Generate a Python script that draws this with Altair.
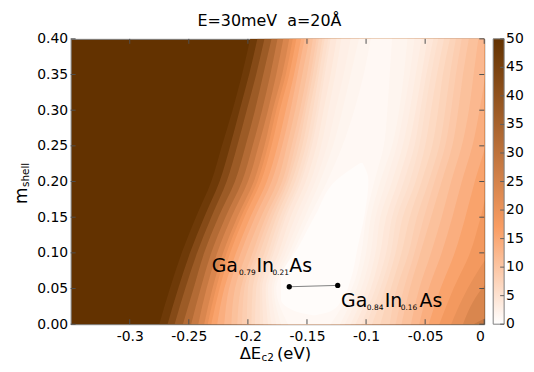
import altair as alt
import pandas as pd

# ---------------- data ----------------
# m_shell rows at which contour crossings were read
row_y = [0.0, 0.05, 0.1, 0.15, 0.2, 0.25, 0.3, 0.35, 0.4]

# contour levels (colour-bar units) and the Delta E_c2 where each level is crossed,
# on the left (steep) side and on the right side of the valley, row by row
levels = [50, 45, 40, 35, 30, 26, 22, 19.5, 17, 15, 13, 11.5, 10, 9, 8, 7, 6, 5.2, 4.5, 3.7, 3, 2.5, 2, 1.5]
left_x = {
    50:   [-0.275, -0.266, -0.256, -0.244, -0.231, -0.222, -0.213, -0.205, -0.198],
    45:   [-0.268, -0.259, -0.249, -0.237, -0.224, -0.215, -0.207, -0.199, -0.192],
    40:   [-0.262, -0.253, -0.243, -0.231, -0.218, -0.209, -0.201, -0.193, -0.186],
    35:   [-0.255, -0.246, -0.237, -0.225, -0.211, -0.202, -0.194, -0.187, -0.180],
    30:   [-0.248, -0.240, -0.231, -0.219, -0.205, -0.196, -0.188, -0.181, -0.175],
    26:   [-0.242, -0.235, -0.226, -0.214, -0.200, -0.191, -0.183, -0.176, -0.170],
    22:   [-0.237, -0.230, -0.221, -0.209, -0.195, -0.186, -0.179, -0.171, -0.165],
    19.5: [-0.234, -0.227, -0.218, -0.206, -0.192, -0.183, -0.176, -0.168, -0.162],
    17:   [-0.231, -0.224, -0.215, -0.203, -0.189, -0.180, -0.173, -0.165, -0.159],
    15:   [-0.226, -0.220, -0.210, -0.198, -0.184, -0.175, -0.168, -0.161, -0.155],
    13:   [-0.220, -0.216, -0.206, -0.194, -0.180, -0.171, -0.164, -0.158, -0.152],
    11.5: [-0.214, -0.211, -0.201, -0.189, -0.175, -0.167, -0.160, -0.154, -0.148],
    10:   [-0.209, -0.206, -0.196, -0.185, -0.171, -0.163, -0.156, -0.150, -0.145],
    9:    [-0.205, -0.203, -0.193, -0.182, -0.168, -0.160, -0.153, -0.147, -0.142],
    8:    [-0.201, -0.200, -0.190, -0.179, -0.166, -0.157, -0.151, -0.145, -0.140],
    7:    [-0.197, -0.196, -0.186, -0.176, -0.163, -0.154, -0.148, -0.142, -0.137],
    6:    [-0.194, -0.193, -0.183, -0.173, -0.160, -0.151, -0.145, -0.140, -0.135],
    5.2:  [-0.190, -0.190, -0.180, -0.170, -0.157, -0.148, -0.142, -0.137, -0.132],
    4.5:  [-0.187, -0.188, -0.178, -0.168, -0.155, -0.146, -0.140, -0.135, -0.130],
    3.7:  [-0.183, -0.185, -0.174, -0.164, -0.151, -0.142, -0.136, -0.130, -0.125],
    3:    [-0.180, -0.183, -0.171, -0.160, -0.147, -0.138, -0.132, -0.126, -0.121],
    2.5:  [-0.176, -0.180, -0.168, -0.156, -0.143, -0.133, -0.126, -0.119, -0.113],
    2:    [-0.172, -0.178, -0.165, -0.152, -0.139, -0.128, -0.120, -0.113, -0.106],
    1.5:  [-0.166, -0.176, -0.162, -0.148, -0.133, -0.120, -0.110, -0.102, -0.096],
}
OUT = 0.03  # crossing lies beyond the right edge of the plot
right_x = {
    50:   [OUT] * 9,
    45:   [OUT] * 9,
    40:   [OUT] * 9,
    35:   [OUT] * 9,
    30:   [0.000, OUT, OUT, OUT, OUT, OUT, OUT, OUT, OUT],
    26:   [-0.009, OUT, OUT, OUT, OUT, OUT, OUT, OUT, OUT],
    22:   [-0.018, -0.002, OUT, OUT, OUT, OUT, OUT, OUT, OUT],
    19.5: [-0.028, -0.014, 0.005, OUT, OUT, OUT, OUT, OUT, OUT],
    17:   [-0.038, -0.026, -0.012, -0.003, 0.006, OUT, OUT, OUT, OUT],
    15:   [-0.047, -0.037, -0.025, -0.016, -0.008, 0.001, 0.008, OUT, OUT],
    13:   [-0.055, -0.047, -0.036, -0.027, -0.019, -0.010, -0.004, 0.001, 0.004],
    11.5: [-0.062, -0.055, -0.045, -0.036, -0.028, -0.019, -0.013, -0.009, -0.005],
    10:   [-0.070, -0.063, -0.054, -0.045, -0.036, -0.027, -0.022, -0.018, -0.013],
    9:    [-0.075, -0.068, -0.059, -0.051, -0.042, -0.033, -0.028, -0.024, -0.019],
    8:    [-0.080, -0.074, -0.064, -0.057, -0.047, -0.038, -0.033, -0.029, -0.024],
    7:    [-0.088, -0.079, -0.070, -0.063, -0.053, -0.044, -0.039, -0.035, -0.029],
    6:    [-0.095, -0.084, -0.075, -0.069, -0.058, -0.050, -0.045, -0.040, -0.034],
    5.2:  [-0.100, -0.088, -0.079, -0.074, -0.063, -0.055, -0.050, -0.045, -0.039],
    4.5:  [-0.104, -0.092, -0.083, -0.078, -0.068, -0.059, -0.054, -0.049, -0.043],
    3.7:  [-0.109, -0.096, -0.088, -0.083, -0.073, -0.064, -0.058, -0.053, -0.048],
    3:    [-0.113, -0.100, -0.092, -0.088, -0.078, -0.069, -0.063, -0.058, -0.053],
    2.5:  [-0.118, -0.104, -0.096, -0.092, -0.083, -0.074, -0.068, -0.063, -0.059],
    2:    [-0.122, -0.108, -0.100, -0.096, -0.088, -0.078, -0.072, -0.068, -0.065],
    1.5:  [-0.130, -0.112, -0.104, -0.100, -0.093, -0.085, -0.082, -0.080, -0.078],
}
# innermost (white) closed contour: the tear drop
inner_level = 1
inner_y = [0.0125, 0.018, 0.035, 0.063, 0.109, 0.156, 0.202, 0.226]
inner_left = [-0.145, -0.160, -0.172, -0.172, -0.157, -0.142, -0.125, -0.105]
inner_right = [-0.143, -0.130, -0.120, -0.113, -0.107, -0.101, -0.098, -0.103]

# marked alloys
alloy_x = [-0.165, -0.124]
alloy_y = [0.0525, 0.0544]

x_ticks = [-0.3, -0.25, -0.2, -0.15, -0.1, -0.05, 0]
y_ticks = [0, 0.05, 0.1, 0.15, 0.2, 0.25, 0.3, 0.35, 0.4]
cbar_ticks = [0, 5, 10, 15, 20, 25, 30, 35, 40, 45, 50]

color_domain = [0, 17, 50]
color_range = ["#ffffff", "#f99d63", "#633200"]

FONT = "DejaVu Sans"
W, H = 416, 287

xscale = alt.Scale(domain=[-0.35, 0], nice=False, zero=False)
yscale = alt.Scale(domain=[0, 0.4], nice=False, zero=False)
cbscale = alt.Scale(domain=[color_domain[0], color_domain[-1]], nice=False, zero=False)
xaxis = alt.Axis(values=x_ticks, ticks=False, domain=False, grid=False, title=None,
                 labelFont=FONT, labelFontSize=14, labelColor="black", labelPadding=5,
                 labelExpr="datum.value == 0 ? '0' : '-' + format(-datum.value, '~g')")
yaxis = alt.Axis(values=y_ticks, ticks=False, domain=False, grid=False, title=None,
                 labelFont=FONT, labelFontSize=14, labelColor="black", labelPadding=3,
                 format=".2f")
cscale = alt.Scale(domain=color_domain, range=color_range, interpolate="rgb")

all_levels = levels + [inner_level, 0]
band_val = {all_levels[i]: (all_levels[i] + all_levels[i + 1]) / 2 for i in range(len(all_levels) - 1)}

layers = []
first = [True]


def Y(field, scale=yscale):
    ax = yaxis if first[0] else None
    first[0] = False
    return alt.Y(field, scale=scale, axis=ax)


def X(field):
    return alt.X(field, scale=xscale, axis=xaxis)


def band_layer(df):
    return alt.Chart(df).mark_area(orient="horizontal", interpolate="monotone", clip=True).encode(
        y=Y("y:Q"), x=X("xl:Q"), x2="xr:Q",
        color=alt.Color("c:Q", scale=cscale, legend=None),
    )


for L in levels:
    df = pd.DataFrame({"y": row_y, "xl": left_x[L], "xr": right_x[L], "c": band_val[L]})
    layers.append(band_layer(df))
layers.append(band_layer(pd.DataFrame({"y": inner_y, "xl": inner_left, "xr": inner_right,
                                       "c": band_val[inner_level]})))

# inward ticks on all four sides
tick_col = "#505050"
tx = pd.DataFrame({"v": x_ticks})
ty = pd.DataFrame({"v": y_ticks})
tc = pd.DataFrame({"v": cbar_ticks})
layers.append(alt.Chart(tx).mark_rule(color=tick_col).encode(x=X("v:Q"), y=alt.value(H), y2=alt.value(H - 5)))
layers.append(alt.Chart(tx).mark_rule(color=tick_col).encode(x=X("v:Q"), y=alt.value(0), y2=alt.value(5)))
layers.append(alt.Chart(ty).mark_rule(color=tick_col).encode(y=Y("v:Q"), x=alt.value(0), x2=alt.value(5)))
layers.append(alt.Chart(ty).mark_rule(color=tick_col).encode(y=Y("v:Q"), x=alt.value(W), x2=alt.value(W - 5)))

# colour bar: gradient built from the same colour stops
stops = [alt.GradientStop(offset=(d - color_domain[0]) / (color_domain[-1] - color_domain[0]), color=c)
         for d, c in zip(color_domain, color_range)]
layers.append(alt.Chart(pd.DataFrame({"a": [0]})).mark_rect(
    fill=alt.Gradient(gradient="linear", stops=stops, x1=0, x2=0, y1=1, y2=0),
    stroke="#808080", strokeWidth=1).encode(
    x=alt.value(W + 9), x2=alt.value(W + 20), y=alt.value(0), y2=alt.value(H)))
layers.append(alt.Chart(tc).mark_rule(color="#606060").encode(
    y=Y("v:Q", scale=cbscale), x=alt.value(W + 16), x2=alt.value(W + 20)))
layers.append(alt.Chart(tc).mark_text(align="left", baseline="middle", font=FONT, fontSize=14,
                                      color="black").encode(
    y=Y("v:Q", scale=cbscale), x=alt.value(W + 22), text=alt.Text("v:Q", format="d")))

# alloy markers
adf = pd.DataFrame({"x": alloy_x, "y": alloy_y})
layers.append(alt.Chart(adf).mark_line(color="#808080", strokeWidth=1).encode(x=X("x:Q"), y=Y("y:Q")))
layers.append(alt.Chart(adf).mark_point(filled=True, color="black", size=28, opacity=1).encode(
    x=X("x:Q"), y=Y("y:Q")))

label_anchor = [(-0.2306, 0.0725, ["Ga", "0.79", "In", "0.21", "As"], [0, 27.5, 45, 61, 78]),
                (-0.1212, 0.0237, ["Ga", "0.84", "In", "0.16", "As"], [0, 26, 44, 60, 79])]
for ax_, ay_, parts, offs in label_anchor:
    for txt, off in zip(parts, offs):
        sub = txt[0].isdigit()
        layers.append(alt.Chart(pd.DataFrame({"x": [ax_], "y": [ay_], "t": [txt]})).mark_text(
            align="left", baseline="alphabetic", font=FONT, fontSize=7.5 if sub else 19,
            dx=off, dy=3 if sub else 0, color="black").encode(x=X("x:Q"), y=Y("y:Q"), text="t:N"))


def free_text(txt, x, y, size, angle=0, align="left"):
    return alt.Chart(pd.DataFrame({"t": [txt]})).mark_text(
        align=align, baseline="alphabetic", font=FONT, fontSize=size, angle=angle,
        color="black").encode(x=alt.value(x), y=alt.value(y), text="t:N")


layers.append(free_text("E=30meV\u00a0\u00a0a=20\u00c5", 200, -13, 16, align="center"))
layers.append(free_text("\u0394E", 170, 322, 16.5))
layers.append(free_text("c2", 192, 324, 10.5))
layers.append(free_text("(eV)", 207.5, 322, 16.5))
layers.append(free_text("m", -44, 166, 17, angle=270))
layers.append(free_text("shell", -41.5, 149, 10.5, angle=270))

chart = alt.layer(*layers).resolve_scale(y="independent").properties(
    width=W, height=H,
    autosize=alt.AutoSizeParams(type="none"),
    padding={"left": 63, "top": 30, "right": 42, "bottom": 39},
).configure_view(fill="#633200", stroke="#808080", strokeWidth=1)

chart.save("out.html", embed_options={"renderer": "svg", "actions": False})
